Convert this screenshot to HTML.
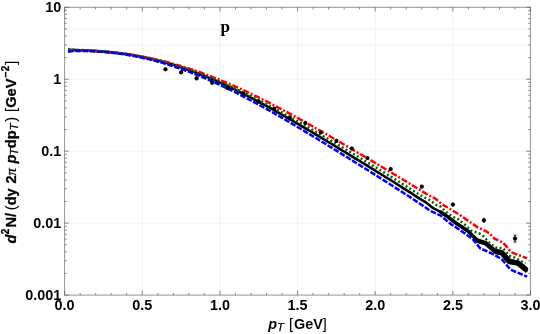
<!DOCTYPE html>
<html><head><meta charset="utf-8"><title>p spectrum</title>
<style>
html,body{margin:0;padding:0;background:#fff;}
body{width:540px;height:334px;position:relative;overflow:hidden;font-family:"Liberation Sans",sans-serif;font-weight:bold;font-size:14.4px;color:#000;}
.yl{position:absolute;right:478.8px;height:16px;line-height:16px;text-align:right;white-space:nowrap;}
.xl{position:absolute;top:296.7px;width:40px;height:16px;line-height:16px;text-align:center;white-space:nowrap;}
.lb{position:absolute;left:0;top:0;width:190px;height:18px;transform-origin:0 0;}
.lb span{position:absolute;top:0;line-height:18px;white-space:nowrap;}
.yt{font-size:14.6px;-webkit-text-stroke:0.3px #000;transform:translate(1.7px,243.6px) rotate(-90deg);}
.xt{font-size:14.4px;transform:translate(268.2px,315.3px);}
i{font-style:italic}
.lb .sb{font-size:0.78em;top:0.29em;font-style:italic;font-weight:normal;-webkit-text-stroke:0.25px #000;margin-left:-0.3px}
.lb .sp{font-size:0.69em;top:-0.53em;}
.lb .n{font-weight:normal;-webkit-text-stroke:0.15px #000;}
.lb .pi{font-family:"Liberation Serif",serif;font-weight:normal;font-style:italic;}
.pl{position:absolute;left:220.6px;top:17px;font-family:"Liberation Serif",serif;font-weight:bold;font-size:17px;line-height:20px;}
</style></head><body>
<svg width="540" height="334" viewBox="0 0 540 334" style="position:absolute;left:0;top:0">
<g stroke="#ececec" stroke-width="0.7" fill="none"><line x1="142.25" y1="7.3" x2="142.25" y2="295.1"/><line x1="219.90" y1="7.3" x2="219.90" y2="295.1"/><line x1="297.55" y1="7.3" x2="297.55" y2="295.1"/><line x1="375.20" y1="7.3" x2="375.20" y2="295.1"/><line x1="452.85" y1="7.3" x2="452.85" y2="295.1"/><line x1="64.6" y1="28.96" x2="530.4" y2="28.96"/><line x1="64.6" y1="44.92" x2="530.4" y2="44.92"/><line x1="64.6" y1="79.25" x2="530.4" y2="79.25"/><line x1="64.6" y1="151.20" x2="530.4" y2="151.20"/><line x1="64.6" y1="223.15" x2="530.4" y2="223.15"/></g>
<g stroke="#f3f3f3" stroke-width="0.7" fill="none"></g>
<path d="M68.0,49.6 L72.0,50.0 L76.0,50.1 L78.0,50.2 L80.0,50.3 L82.0,50.3 L84.0,50.4 L86.0,50.5 L88.0,50.6 L90.0,50.7 L92.0,50.8 L94.0,50.9 L96.0,51.0 L98.0,51.2 L100.0,51.3 L102.0,51.5 L104.0,51.6 L106.0,51.8 L108.0,52.0 L110.0,52.2 L112.0,52.4 L114.0,52.6 L116.0,52.8 L118.0,53.1 L120.0,53.3 L122.0,53.6 L124.0,53.8 L126.0,54.1 L128.0,54.4 L130.0,54.7 L132.0,55.1 L134.0,55.4 L136.0,55.8 L138.0,56.1 L140.0,56.5 L142.0,56.9 L144.0,57.3 L146.0,57.7 L148.0,58.2 L150.0,58.6 L152.0,59.1 L154.0,59.5 L156.0,60.0 L158.0,60.5 L160.0,61.0 L162.0,61.6 L164.0,62.1 L166.0,62.7 L168.0,63.2 L170.0,63.8 L172.0,64.4 L174.0,65.0 L176.0,65.7 L178.0,66.3 L180.0,66.9 L182.0,67.6 L184.0,68.3 L186.0,69.0 L188.0,69.7 L190.0,70.4 L192.0,71.1 L194.0,71.9 L196.0,72.6 L198.0,73.4 L200.0,74.2 L202.0,75.0 L204.0,75.8 L206.0,76.6 L208.0,77.4 L210.0,78.2 L212.0,79.1 L214.0,80.0 L216.0,80.8 L218.0,81.7 L220.0,82.6 L222.0,83.5 L224.0,84.4 L226.0,85.3 L228.0,86.3 L230.0,87.2 L232.0,88.2 L234.0,89.1 L236.0,90.1 L238.0,91.1 L240.0,92.1 L242.0,93.1 L244.0,94.1 L246.0,95.1 L248.0,96.2 L250.0,97.2 L252.0,98.2 L254.0,99.3 L256.0,100.3 L258.0,101.4 L260.0,102.5 L262.0,103.6 L264.0,104.6 L266.0,105.7 L268.0,106.8 L270.0,107.9 L272.0,109.0 L274.0,110.2 L276.0,111.3 L278.0,112.4 L280.0,113.5 L282.0,114.7 L284.0,115.8 L286.0,117.0 L288.0,118.1 L290.0,119.3 L292.0,120.4 L294.0,121.6 L296.0,122.8 L298.0,123.9 L300.0,125.1 L302.0,126.3 L304.0,127.5 L306.0,128.6 L308.0,129.8 L310.0,131.0 L312.0,132.2 L314.0,133.4 L316.0,134.6 L318.0,135.8 L320.0,137.0 L322.0,138.2 L324.0,139.4 L326.0,140.6 L328.0,141.8 L330.0,143.0 L332.0,144.2 L334.0,145.4 L336.0,146.6 L338.0,147.8 L340.0,149.1 L342.0,150.3 L344.0,151.5 L346.0,152.7 L348.0,153.9 L350.0,155.1 L352.0,156.4 L354.0,157.6 L356.0,158.8 L358.0,160.0 L360.0,161.2 L362.0,162.5 L364.0,163.7 L366.0,164.9 L368.0,166.1 L370.0,167.4 L372.0,168.6 L374.0,169.8 L376.0,171.1 L378.0,172.3 L380.0,173.5 L382.0,174.8 L384.0,176.0 L386.0,177.3 L388.0,178.5 L390.0,179.7 L392.0,181.0 L394.0,182.2 L396.0,183.5 L398.0,184.8 L400.0,186.0 L402.0,187.3 L404.0,188.6 L406.0,189.8 L408.0,191.1 L410.0,192.4 L412.0,193.7 L414.0,195.0 L416.0,196.3 L418.0,197.6 L420.0,198.9 L426.3,202.7 L432.6,207.8 L441.0,212.1 L446.2,215.8 L456.7,223.6 L468.3,231.3 L477.7,240.8 L486.0,243.4 L494.9,251.0 L501.8,252.4 L509.5,261.2 L518.0,262.8 L525.9,269.2" fill="none" stroke="#000" stroke-width="2.6" stroke-linejoin="round"/>
<path d="M441.0,212.1 L446.2,215.8 L456.7,223.6 L468.3,231.3 L477.7,240.8 L486.0,243.4 L494.9,251.0 L501.8,252.4 L509.5,261.2 L518.0,262.8 L525.9,269.2" fill="none" stroke="#000" stroke-width="3.6" stroke-linejoin="round" stroke-linecap="round"/>
<path d="M477.7,240.8 L486.0,243.4 L494.9,251.0 L501.8,252.4 L509.5,261.2 L518.0,262.8 L525.9,269.2" fill="none" stroke="#000" stroke-width="4.6" stroke-linejoin="round" stroke-linecap="round"/>
<path d="M494.9,251.4 L501.8,252.8 L509.5,261.6 L518.0,263.2 L525.9,269.6" fill="none" stroke="#000" stroke-width="5.4" stroke-linejoin="round" stroke-linecap="butt"/>
<path d="M524.6,266.5 L526.2,272.3" fill="none" stroke="#000" stroke-width="2.6" stroke-linecap="butt"/>
<path d="M68.0,50.4 L72.0,50.3 L76.0,50.3 L78.0,50.3 L80.0,50.4 L82.0,50.4 L84.0,50.5 L86.0,50.5 L88.0,50.6 L90.0,50.7 L92.0,50.8 L94.0,50.9 L96.0,51.0 L98.0,51.1 L100.0,51.3 L102.0,51.4 L104.0,51.5 L106.0,51.7 L108.0,51.9 L110.0,52.1 L112.0,52.3 L114.0,52.5 L116.0,52.7 L118.0,52.9 L120.0,53.1 L122.0,53.4 L124.0,53.6 L126.0,53.9 L128.0,54.2 L130.0,54.5 L132.0,54.8 L134.0,55.1 L136.0,55.4 L138.0,55.8 L140.0,56.1 L142.0,56.5 L144.0,56.9 L146.0,57.3 L148.0,57.7 L150.0,58.1 L152.0,58.5 L154.0,58.9 L156.0,59.4 L158.0,59.9 L160.0,60.3 L162.0,60.8 L164.0,61.3 L166.0,61.8 L168.0,62.3 L170.0,62.9 L172.0,63.4 L174.0,64.0 L176.0,64.6 L178.0,65.1 L180.0,65.7 L182.0,66.3 L184.0,67.0 L186.0,67.6 L188.0,68.2 L190.0,68.9 L192.0,69.5 L194.0,70.2 L196.0,70.9 L198.0,71.6 L200.0,72.3 L202.0,73.0 L204.0,73.8 L206.0,74.5 L208.0,75.2 L210.0,76.0 L212.0,76.8 L214.0,77.6 L216.0,78.4 L218.0,79.2 L220.0,80.0 L222.0,80.8 L224.0,81.6 L226.0,82.5 L228.0,83.3 L230.0,84.2 L232.0,85.1 L234.0,85.9 L236.0,86.8 L238.0,87.7 L240.0,88.6 L242.0,89.6 L244.0,90.5 L246.0,91.4 L248.0,92.4 L250.0,93.3 L252.0,94.3 L254.0,95.2 L256.0,96.2 L258.0,97.2 L260.0,98.2 L262.0,99.2 L264.0,100.2 L266.0,101.2 L268.0,102.2 L270.0,103.2 L272.0,104.3 L274.0,105.3 L276.0,106.3 L278.0,107.4 L280.0,108.4 L282.0,109.5 L284.0,110.6 L286.0,111.6 L288.0,112.7 L290.0,113.8 L292.0,114.9 L294.0,116.0 L296.0,117.1 L298.0,118.2 L300.0,119.3 L302.0,120.4 L304.0,121.5 L306.0,122.6 L308.0,123.8 L310.0,124.9 L312.0,126.0 L314.0,127.1 L316.0,128.3 L318.0,129.4 L320.0,130.6 L322.0,131.7 L324.0,132.9 L326.0,134.0 L328.0,135.2 L330.0,136.3 L332.0,137.5 L334.0,138.7 L336.0,139.8 L338.0,141.0 L340.0,142.2 L342.0,143.3 L344.0,144.5 L346.0,145.7 L348.0,146.9 L350.0,148.0 L352.0,149.2 L354.0,150.4 L356.0,151.6 L358.0,152.8 L360.0,153.9 L362.0,155.1 L364.0,156.3 L366.0,157.5 L368.0,158.7 L370.0,159.9 L372.0,161.1 L374.0,162.3 L376.0,163.5 L378.0,164.7 L380.0,165.9 L382.0,167.0 L384.0,168.2 L386.0,169.4 L388.0,170.6 L390.0,171.8 L392.0,173.0 L394.0,174.2 L396.0,175.4 L398.0,176.6 L400.0,177.8 L402.0,179.0 L404.0,180.2 L406.0,181.4 L408.0,182.7 L410.0,183.9 L412.0,185.1 L414.0,186.3 L416.0,187.5 L418.0,188.7 L420.0,189.9 L428.0,194.9 L435.7,198.9 L441.0,203.6 L458.9,214.4 L477.7,227.4 L485.4,230.9 L489.4,233.4 L494.5,238.7 L503.0,242.6 L511.5,252.3 L527.0,258.4" fill="none" stroke="#ff0000" stroke-width="2.5" stroke-dasharray="6.3 1.9 2 1.9"/>
<path d="M68.0,49.3 L72.0,49.6 L76.0,49.8 L78.0,49.9 L80.0,49.9 L82.0,50.0 L84.0,50.1 L86.0,50.2 L88.0,50.3 L90.0,50.4 L92.0,50.5 L94.0,50.6 L96.0,50.8 L98.0,50.9 L100.0,51.1 L102.0,51.2 L104.0,51.4 L106.0,51.6 L108.0,51.8 L110.0,52.0 L112.0,52.2 L114.0,52.4 L116.0,52.6 L118.0,52.9 L120.0,53.2 L122.0,53.4 L124.0,53.7 L126.0,54.0 L128.0,54.3 L130.0,54.6 L132.0,55.0 L134.0,55.3 L136.0,55.7 L138.0,56.0 L140.0,56.4 L142.0,56.8 L144.0,57.2 L146.0,57.6 L148.0,58.1 L150.0,58.5 L152.0,59.0 L154.0,59.4 L156.0,59.9 L158.0,60.4 L160.0,60.9 L162.0,61.5 L164.0,62.0 L166.0,62.5 L168.0,63.1 L170.0,63.7 L172.0,64.3 L174.0,64.8 L176.0,65.5 L178.0,66.1 L180.0,66.7 L182.0,67.4 L184.0,68.0 L186.0,68.7 L188.0,69.4 L190.0,70.1 L192.0,70.8 L194.0,71.5 L196.0,72.2 L198.0,73.0 L200.0,73.7 L202.0,74.5 L204.0,75.2 L206.0,76.0 L208.0,76.8 L210.0,77.6 L212.0,78.5 L214.0,79.3 L216.0,80.1 L218.0,81.0 L220.0,81.8 L222.0,82.7 L224.0,83.6 L226.0,84.5 L228.0,85.4 L230.0,86.3 L232.0,87.2 L234.0,88.1 L236.0,89.0 L238.0,90.0 L240.0,90.9 L242.0,91.9 L244.0,92.9 L246.0,93.8 L248.0,94.8 L250.0,95.8 L252.0,96.8 L254.0,97.8 L256.0,98.8 L258.0,99.9 L260.0,100.9 L262.0,101.9 L264.0,103.0 L266.0,104.0 L268.0,105.1 L270.0,106.1 L272.0,107.2 L274.0,108.2 L276.0,109.3 L278.0,110.4 L280.0,111.5 L282.0,112.6 L284.0,113.7 L286.0,114.8 L288.0,115.9 L290.0,117.0 L292.0,118.1 L294.0,119.2 L296.0,120.4 L298.0,121.5 L300.0,122.6 L302.0,123.8 L304.0,124.9 L306.0,126.0 L308.0,127.2 L310.0,128.3 L312.0,129.5 L314.0,130.6 L316.0,131.8 L318.0,133.0 L320.0,134.1 L322.0,135.3 L324.0,136.5 L326.0,137.6 L328.0,138.8 L330.0,140.0 L332.0,141.2 L334.0,142.3 L336.0,143.5 L338.0,144.7 L340.0,145.9 L342.0,147.1 L344.0,148.3 L346.0,149.5 L348.0,150.6 L350.0,151.8 L352.0,153.0 L354.0,154.2 L356.0,155.4 L358.0,156.6 L360.0,157.8 L362.0,159.0 L364.0,160.3 L366.0,161.5 L368.0,162.7 L370.0,163.9 L372.0,165.1 L374.0,166.3 L376.0,167.5 L378.0,168.7 L380.0,170.0 L382.0,171.2 L384.0,172.4 L386.0,173.6 L388.0,174.9 L390.0,176.1 L392.0,177.3 L394.0,178.6 L396.0,179.8 L398.0,181.1 L400.0,182.3 L402.0,183.6 L404.0,184.8 L406.0,186.1 L408.0,187.4 L410.0,188.6 L412.0,189.9 L414.0,191.2 L416.0,192.5 L418.0,193.7 L420.0,195.0 L430.5,200.5 L435.7,204.7 L441.0,206.8 L446.2,212.0 L451.4,216.0 L458.9,219.6 L465.0,224.8 L471.1,230.6 L478.2,232.9 L482.3,235.0 L490.5,244.2 L497.0,248.0 L503.0,248.0 L509.0,255.5 L516.5,258.2 L525.3,263.8" fill="none" stroke="#006400" stroke-width="2.5" stroke-dasharray="2 2.4"/>
<path d="M68.0,51.7 L72.0,51.2 L76.0,51.0 L78.0,51.0 L80.0,51.0 L82.0,51.0 L84.0,51.1 L86.0,51.1 L88.0,51.2 L90.0,51.2 L92.0,51.3 L94.0,51.4 L96.0,51.5 L98.0,51.6 L100.0,51.8 L102.0,51.9 L104.0,52.1 L106.0,52.2 L108.0,52.4 L110.0,52.6 L112.0,52.8 L114.0,53.1 L116.0,53.3 L118.0,53.6 L120.0,53.8 L122.0,54.1 L124.0,54.4 L126.0,54.7 L128.0,55.1 L130.0,55.4 L132.0,55.8 L134.0,56.1 L136.0,56.5 L138.0,56.9 L140.0,57.3 L142.0,57.7 L144.0,58.2 L146.0,58.6 L148.0,59.1 L150.0,59.6 L152.0,60.1 L154.0,60.6 L156.0,61.1 L158.0,61.7 L160.0,62.2 L162.0,62.8 L164.0,63.4 L166.0,64.0 L168.0,64.6 L170.0,65.2 L172.0,65.8 L174.0,66.5 L176.0,67.2 L178.0,67.8 L180.0,68.5 L182.0,69.2 L184.0,70.0 L186.0,70.7 L188.0,71.4 L190.0,72.2 L192.0,73.0 L194.0,73.7 L196.0,74.5 L198.0,75.3 L200.0,76.2 L202.0,77.0 L204.0,77.8 L206.0,78.7 L208.0,79.5 L210.0,80.4 L212.0,81.3 L214.0,82.2 L216.0,83.1 L218.0,84.0 L220.0,84.9 L222.0,85.9 L224.0,86.8 L226.0,87.8 L228.0,88.8 L230.0,89.7 L232.0,90.7 L234.0,91.7 L236.0,92.7 L238.0,93.7 L240.0,94.7 L242.0,95.8 L244.0,96.8 L246.0,97.9 L248.0,98.9 L250.0,100.0 L252.0,101.0 L254.0,102.1 L256.0,103.2 L258.0,104.3 L260.0,105.4 L262.0,106.5 L264.0,107.6 L266.0,108.7 L268.0,109.8 L270.0,111.0 L272.0,112.1 L274.0,113.2 L276.0,114.4 L278.0,115.5 L280.0,116.7 L282.0,117.8 L284.0,119.0 L286.0,120.2 L288.0,121.3 L290.0,122.5 L292.0,123.7 L294.0,124.9 L296.0,126.1 L298.0,127.3 L300.0,128.5 L302.0,129.7 L304.0,130.9 L306.0,132.1 L308.0,133.3 L310.0,134.5 L312.0,135.7 L314.0,136.9 L316.0,138.1 L318.0,139.3 L320.0,140.6 L322.0,141.8 L324.0,143.0 L326.0,144.2 L328.0,145.5 L330.0,146.7 L332.0,147.9 L334.0,149.2 L336.0,150.4 L338.0,151.6 L340.0,152.9 L342.0,154.1 L344.0,155.4 L346.0,156.6 L348.0,157.8 L350.0,159.1 L352.0,160.3 L354.0,161.6 L356.0,162.8 L358.0,164.1 L360.0,165.3 L362.0,166.6 L364.0,167.8 L366.0,169.1 L368.0,170.3 L370.0,171.6 L372.0,172.9 L374.0,174.1 L376.0,175.4 L378.0,176.6 L380.0,177.9 L382.0,179.2 L384.0,180.4 L386.0,181.7 L388.0,183.0 L390.0,184.2 L392.0,185.5 L394.0,186.8 L396.0,188.1 L398.0,189.4 L400.0,190.7 L402.0,191.9 L404.0,193.2 L406.0,194.5 L408.0,195.8 L410.0,197.1 L412.0,198.4 L414.0,199.8 L416.0,201.1 L418.0,202.4 L420.0,203.7 L430.5,211.0 L441.0,215.7 L446.2,220.4 L451.4,224.4 L465.0,233.4 L473.1,239.6 L480.3,248.4 L487.2,251.3 L495.1,255.2 L502.3,259.7 L510.4,269.6 L527.1,276.6" fill="none" stroke="#0000ff" stroke-width="2.5" stroke-dasharray="5.6 1.6"/>
<circle cx="165.5" cy="69.3" r="2.1" fill="#000"/>
<circle cx="181.1" cy="72.3" r="2.1" fill="#000"/>
<circle cx="196.6" cy="78.4" r="2.1" fill="#000"/>
<circle cx="212.1" cy="82.8" r="2.1" fill="#000"/>
<circle cx="227.7" cy="88.2" r="2.1" fill="#000"/>
<circle cx="243.2" cy="93.6" r="2.1" fill="#000"/>
<circle cx="258.7" cy="101.7" r="2.1" fill="#000"/>
<circle cx="274.3" cy="108.5" r="2.1" fill="#000"/>
<circle cx="289.8" cy="117.5" r="2.1" fill="#000"/>
<circle cx="305.3" cy="123.0" r="2.1" fill="#000"/>
<circle cx="320.8" cy="132.5" r="2.1" fill="#000"/>
<circle cx="336.4" cy="140.9" r="2.1" fill="#000"/>
<circle cx="351.9" cy="148.5" r="2.1" fill="#000"/>
<circle cx="367.4" cy="158.0" r="2.1" fill="#000"/>
<circle cx="390.7" cy="169.0" r="2.1" fill="#000"/>
<line x1="421.8" y1="185.5" x2="421.8" y2="187.8" stroke="#000" stroke-width="1"/>
<circle cx="421.8" cy="186.7" r="2.1" fill="#000"/>
<line x1="452.9" y1="202.6" x2="452.9" y2="206.6" stroke="#000" stroke-width="1"/>
<circle cx="452.9" cy="204.6" r="2.1" fill="#000"/>
<line x1="483.9" y1="217.6" x2="483.9" y2="223.0" stroke="#000" stroke-width="1"/>
<circle cx="483.9" cy="220.3" r="2.1" fill="#000"/>
<line x1="515.0" y1="235.1" x2="515.0" y2="242.1" stroke="#000" stroke-width="1"/>
<line x1="513.5" y1="235.1" x2="516.5" y2="235.1" stroke="#000" stroke-width="0.8"/>
<line x1="513.5" y1="242.1" x2="516.5" y2="242.1" stroke="#000" stroke-width="0.8"/>
<circle cx="515.0" cy="238.6" r="2.1" fill="#000"/>
<rect x="64.6" y="7.3" width="465.80" height="287.80" fill="none" stroke="#949494" stroke-width="1"/>
<g stroke="#5a5a5a" stroke-width="0.7" fill="none"><line x1="64.60" y1="295.1" x2="64.60" y2="290.90000000000003"/><line x1="64.60" y1="7.3" x2="64.60" y2="11.5"/><line x1="80.13" y1="295.1" x2="80.13" y2="292.90000000000003"/><line x1="80.13" y1="7.3" x2="80.13" y2="9.5"/><line x1="95.66" y1="295.1" x2="95.66" y2="292.90000000000003"/><line x1="95.66" y1="7.3" x2="95.66" y2="9.5"/><line x1="111.19" y1="295.1" x2="111.19" y2="292.90000000000003"/><line x1="111.19" y1="7.3" x2="111.19" y2="9.5"/><line x1="126.72" y1="295.1" x2="126.72" y2="292.90000000000003"/><line x1="126.72" y1="7.3" x2="126.72" y2="9.5"/><line x1="142.25" y1="295.1" x2="142.25" y2="290.90000000000003"/><line x1="142.25" y1="7.3" x2="142.25" y2="11.5"/><line x1="157.78" y1="295.1" x2="157.78" y2="292.90000000000003"/><line x1="157.78" y1="7.3" x2="157.78" y2="9.5"/><line x1="173.31" y1="295.1" x2="173.31" y2="292.90000000000003"/><line x1="173.31" y1="7.3" x2="173.31" y2="9.5"/><line x1="188.84" y1="295.1" x2="188.84" y2="292.90000000000003"/><line x1="188.84" y1="7.3" x2="188.84" y2="9.5"/><line x1="204.37" y1="295.1" x2="204.37" y2="292.90000000000003"/><line x1="204.37" y1="7.3" x2="204.37" y2="9.5"/><line x1="219.90" y1="295.1" x2="219.90" y2="290.90000000000003"/><line x1="219.90" y1="7.3" x2="219.90" y2="11.5"/><line x1="235.43" y1="295.1" x2="235.43" y2="292.90000000000003"/><line x1="235.43" y1="7.3" x2="235.43" y2="9.5"/><line x1="250.96" y1="295.1" x2="250.96" y2="292.90000000000003"/><line x1="250.96" y1="7.3" x2="250.96" y2="9.5"/><line x1="266.49" y1="295.1" x2="266.49" y2="292.90000000000003"/><line x1="266.49" y1="7.3" x2="266.49" y2="9.5"/><line x1="282.02" y1="295.1" x2="282.02" y2="292.90000000000003"/><line x1="282.02" y1="7.3" x2="282.02" y2="9.5"/><line x1="297.55" y1="295.1" x2="297.55" y2="290.90000000000003"/><line x1="297.55" y1="7.3" x2="297.55" y2="11.5"/><line x1="313.08" y1="295.1" x2="313.08" y2="292.90000000000003"/><line x1="313.08" y1="7.3" x2="313.08" y2="9.5"/><line x1="328.61" y1="295.1" x2="328.61" y2="292.90000000000003"/><line x1="328.61" y1="7.3" x2="328.61" y2="9.5"/><line x1="344.14" y1="295.1" x2="344.14" y2="292.90000000000003"/><line x1="344.14" y1="7.3" x2="344.14" y2="9.5"/><line x1="359.67" y1="295.1" x2="359.67" y2="292.90000000000003"/><line x1="359.67" y1="7.3" x2="359.67" y2="9.5"/><line x1="375.20" y1="295.1" x2="375.20" y2="290.90000000000003"/><line x1="375.20" y1="7.3" x2="375.20" y2="11.5"/><line x1="390.73" y1="295.1" x2="390.73" y2="292.90000000000003"/><line x1="390.73" y1="7.3" x2="390.73" y2="9.5"/><line x1="406.26" y1="295.1" x2="406.26" y2="292.90000000000003"/><line x1="406.26" y1="7.3" x2="406.26" y2="9.5"/><line x1="421.79" y1="295.1" x2="421.79" y2="292.90000000000003"/><line x1="421.79" y1="7.3" x2="421.79" y2="9.5"/><line x1="437.32" y1="295.1" x2="437.32" y2="292.90000000000003"/><line x1="437.32" y1="7.3" x2="437.32" y2="9.5"/><line x1="452.85" y1="295.1" x2="452.85" y2="290.90000000000003"/><line x1="452.85" y1="7.3" x2="452.85" y2="11.5"/><line x1="468.38" y1="295.1" x2="468.38" y2="292.90000000000003"/><line x1="468.38" y1="7.3" x2="468.38" y2="9.5"/><line x1="483.91" y1="295.1" x2="483.91" y2="292.90000000000003"/><line x1="483.91" y1="7.3" x2="483.91" y2="9.5"/><line x1="499.44" y1="295.1" x2="499.44" y2="292.90000000000003"/><line x1="499.44" y1="7.3" x2="499.44" y2="9.5"/><line x1="514.97" y1="295.1" x2="514.97" y2="292.90000000000003"/><line x1="514.97" y1="7.3" x2="514.97" y2="9.5"/><line x1="530.50" y1="295.1" x2="530.50" y2="290.90000000000003"/><line x1="530.50" y1="7.3" x2="530.50" y2="11.5"/><line x1="64.6" y1="7.30" x2="68.8" y2="7.30"/><line x1="530.4" y1="7.30" x2="526.1999999999999" y2="7.30"/><line x1="64.6" y1="79.25" x2="68.8" y2="79.25"/><line x1="530.4" y1="79.25" x2="526.1999999999999" y2="79.25"/><line x1="64.6" y1="57.59" x2="66.8" y2="57.59"/><line x1="530.4" y1="57.59" x2="528.1999999999999" y2="57.59"/><line x1="64.6" y1="44.92" x2="66.8" y2="44.92"/><line x1="530.4" y1="44.92" x2="528.1999999999999" y2="44.92"/><line x1="64.6" y1="35.93" x2="66.8" y2="35.93"/><line x1="530.4" y1="35.93" x2="528.1999999999999" y2="35.93"/><line x1="64.6" y1="28.96" x2="66.8" y2="28.96"/><line x1="530.4" y1="28.96" x2="528.1999999999999" y2="28.96"/><line x1="64.6" y1="23.26" x2="66.8" y2="23.26"/><line x1="530.4" y1="23.26" x2="528.1999999999999" y2="23.26"/><line x1="64.6" y1="18.45" x2="66.8" y2="18.45"/><line x1="530.4" y1="18.45" x2="528.1999999999999" y2="18.45"/><line x1="64.6" y1="14.27" x2="66.8" y2="14.27"/><line x1="530.4" y1="14.27" x2="528.1999999999999" y2="14.27"/><line x1="64.6" y1="10.59" x2="66.8" y2="10.59"/><line x1="530.4" y1="10.59" x2="528.1999999999999" y2="10.59"/><line x1="64.6" y1="151.20" x2="68.8" y2="151.20"/><line x1="530.4" y1="151.20" x2="526.1999999999999" y2="151.20"/><line x1="64.6" y1="129.54" x2="66.8" y2="129.54"/><line x1="530.4" y1="129.54" x2="528.1999999999999" y2="129.54"/><line x1="64.6" y1="116.87" x2="66.8" y2="116.87"/><line x1="530.4" y1="116.87" x2="528.1999999999999" y2="116.87"/><line x1="64.6" y1="107.88" x2="66.8" y2="107.88"/><line x1="530.4" y1="107.88" x2="528.1999999999999" y2="107.88"/><line x1="64.6" y1="100.91" x2="66.8" y2="100.91"/><line x1="530.4" y1="100.91" x2="528.1999999999999" y2="100.91"/><line x1="64.6" y1="95.21" x2="66.8" y2="95.21"/><line x1="530.4" y1="95.21" x2="528.1999999999999" y2="95.21"/><line x1="64.6" y1="90.40" x2="66.8" y2="90.40"/><line x1="530.4" y1="90.40" x2="528.1999999999999" y2="90.40"/><line x1="64.6" y1="86.22" x2="66.8" y2="86.22"/><line x1="530.4" y1="86.22" x2="528.1999999999999" y2="86.22"/><line x1="64.6" y1="82.54" x2="66.8" y2="82.54"/><line x1="530.4" y1="82.54" x2="528.1999999999999" y2="82.54"/><line x1="64.6" y1="223.15" x2="68.8" y2="223.15"/><line x1="530.4" y1="223.15" x2="526.1999999999999" y2="223.15"/><line x1="64.6" y1="201.49" x2="66.8" y2="201.49"/><line x1="530.4" y1="201.49" x2="528.1999999999999" y2="201.49"/><line x1="64.6" y1="188.82" x2="66.8" y2="188.82"/><line x1="530.4" y1="188.82" x2="528.1999999999999" y2="188.82"/><line x1="64.6" y1="179.83" x2="66.8" y2="179.83"/><line x1="530.4" y1="179.83" x2="528.1999999999999" y2="179.83"/><line x1="64.6" y1="172.86" x2="66.8" y2="172.86"/><line x1="530.4" y1="172.86" x2="528.1999999999999" y2="172.86"/><line x1="64.6" y1="167.16" x2="66.8" y2="167.16"/><line x1="530.4" y1="167.16" x2="528.1999999999999" y2="167.16"/><line x1="64.6" y1="162.35" x2="66.8" y2="162.35"/><line x1="530.4" y1="162.35" x2="528.1999999999999" y2="162.35"/><line x1="64.6" y1="158.17" x2="66.8" y2="158.17"/><line x1="530.4" y1="158.17" x2="528.1999999999999" y2="158.17"/><line x1="64.6" y1="154.49" x2="66.8" y2="154.49"/><line x1="530.4" y1="154.49" x2="528.1999999999999" y2="154.49"/><line x1="64.6" y1="295.10" x2="68.8" y2="295.10"/><line x1="530.4" y1="295.10" x2="526.1999999999999" y2="295.10"/><line x1="64.6" y1="273.44" x2="66.8" y2="273.44"/><line x1="530.4" y1="273.44" x2="528.1999999999999" y2="273.44"/><line x1="64.6" y1="260.77" x2="66.8" y2="260.77"/><line x1="530.4" y1="260.77" x2="528.1999999999999" y2="260.77"/><line x1="64.6" y1="251.78" x2="66.8" y2="251.78"/><line x1="530.4" y1="251.78" x2="528.1999999999999" y2="251.78"/><line x1="64.6" y1="244.81" x2="66.8" y2="244.81"/><line x1="530.4" y1="244.81" x2="528.1999999999999" y2="244.81"/><line x1="64.6" y1="239.11" x2="66.8" y2="239.11"/><line x1="530.4" y1="239.11" x2="528.1999999999999" y2="239.11"/><line x1="64.6" y1="234.30" x2="66.8" y2="234.30"/><line x1="530.4" y1="234.30" x2="528.1999999999999" y2="234.30"/><line x1="64.6" y1="230.12" x2="66.8" y2="230.12"/><line x1="530.4" y1="230.12" x2="528.1999999999999" y2="230.12"/><line x1="64.6" y1="226.44" x2="66.8" y2="226.44"/><line x1="530.4" y1="226.44" x2="528.1999999999999" y2="226.44"/></g>
</svg>
<div style="opacity:0.999"><div class="yl" style="top:-1.0px">10</div><div class="yl" style="top:71.0px">1</div><div class="yl" style="top:142.9px">0.1</div><div class="yl" style="top:214.9px">0.01</div><div class="yl" style="top:286.8px">0.001</div><div class="xl" style="left:44.6px">0.0</div><div class="xl" style="left:122.2px">0.5</div><div class="xl" style="left:199.9px">1.0</div><div class="xl" style="left:277.6px">1.5</div><div class="xl" style="left:355.2px">2.0</div><div class="xl" style="left:432.9px">2.5</div><div class="xl" style="left:510.5px">3.0</div>
<div class="lb xt"><span style="left:0px"><i>p</i></span><span class="sb" style="left:9.0px">T</span><span class="n" style="left:20.9px">[</span><span style="left:25.9px">GeV</span><span class="n" style="left:54.6px">]</span></div>
<div class="lb yt"><span style="left:0px"><i>d</i></span><span class="sp" style="left:9.3px">2</span><span style="left:16.0px">N/</span><span class="n" style="left:33.4px">(</span><span style="left:38.26px">dy</span><span style="left:60.0px">2</span><span class="pi" style="left:68.2px">&pi;</span><span style="left:80.0px"><i>p</i></span><span class="sb" style="left:88.6px">T</span><span style="left:95.4px">dp</span><span class="sb" style="left:113.6px">T</span><span class="n" style="left:121.8px">)</span><span class="n" style="left:131.5px">[</span><span style="left:135.86px">GeV</span><span class="sp" style="left:166.4px">&minus;2</span><span class="n" style="left:178.9px">]</span></div>
<div class="pl">p</div></div>
</body></html>
